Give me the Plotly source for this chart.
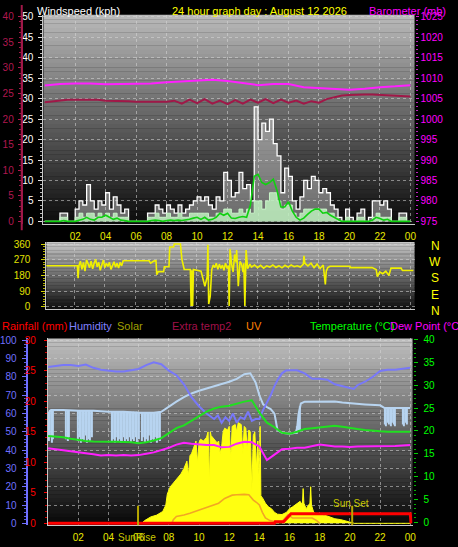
import plotly.graph_objects as go

W, H = 458, 547

def PX(x):
    return x / W

def PY(y):
    return 1 - y / H

# ---------------- data ----------------
x_tick_vals = [2, 4, 6, 8, 10, 12, 14, 16, 18, 20, 22, 24]
x_tick_text = ["02", "04", "06", "08", "10", "12", "14", "16", "18", "20", "22", "00"]

wind_hours = [0,0.25,0.5,0.75,1,1.25,1.5,1.75,2,2.25,2.5,2.75,3,3.25,3.5,3.75,4,4.25,4.5,4.75,
              5,5.25,5.5,5.75,6,6.25,6.5,6.75,7,7.25,7.5,7.75,8,8.25,8.5,8.75,9,9.25,9.5,9.75,
              10,10.25,10.5,10.75,11,11.25,11.5,11.75,12,12.25,12.5,12.75,13,13.25,13.5,13.75,
              14,14.25,14.5,14.75,15,15.25,15.5,15.75,16,16.25,16.5,16.75,17,17.25,17.5,17.75,
              18,18.25,18.5,18.75,19,19.25,19.5,19.75,20,20.25,20.5,20.75,21,21.25,21.5,21.75,
              22,22.25,22.5,22.75,23,23.25,23.5,23.75,24]
wind_gust = [0,0,0,0, 2,2,0,0, 3,5,4,9, 5,3,5,4, 7,3,6,4, 2,3,0,0, 0,0,0,2, 2,4,3,2,
             4,3,2,4, 2,3,4,5, 6,5,6,4, 3,6,5,12, 10,6,7,12, 8,9,5,28, 20,24,22,25,
             19,16,7,13, 11,5,3,6, 10,8,11,10, 7,8,7,4, 3,1,0,3, 1,0,2,3, 0,1,5,5,
             4,5,3,0, 0,2,2,0, 0]
wind_speed = [0,0,0,0, 1,1,0,0, 1,2,1,2, 2,1,2,1, 2,1,2,1, 1,1,0,0, 0,0,0,1, 1,2,1,1,
              2,1,1,2, 1,1,2,2, 2,2,2,1, 1,2,2,3, 3,2,2,3, 2,3,2,5, 5,3,5,7,
              7,5,3,4, 4,2,1,2, 3,3,3,3, 3,3,2,2, 1,0,0,1, 0,0,1,1, 0,0,1,2,
              1,1,1,0, 0,1,1,0, 0]
wind_avg = [0,0,0,0, 0,0.2,0,0, 0,0.3,0.5,1, 0.5,0.3,1,1, 1.5,1,0.5,0.8, 0.3,0.2,0,0,
            0,0,0,0, 0.2,0.3,0.2,0, 0.2,0.3,0.2,0.3, 0.2,0.3,0.5,0.8, 1,0.5,1,0.3,
            0.5,1,2,1.5, 2,0.8,0.7,1, 1.2,1,4,11, 11.5,9.5,9,9.5, 10.3,7.5,3.5,3.5,
            4.8,2.5,1,0.3, 0.8,1.7,2.5,3, 3,2,2.2,1.5, 1,0.3,0,0, 0,0,0,0, 0,0,0.3,1,
            0.7,0.3,0.5,0, 0,0,0,0, 0]

baro_hours = [0,1,2,3,4,5,6,7,8,9,10,11,12,13,14,15,16,17,18,19,20,21,22,23,24]
barometer = [1008.2,1008.6,1008.7,1008.7,1008.5,1008.6,1008.7,1008.7,1009.0,1009.2,1009.3,
             1009.6,1009.3,1008.8,1008.3,1008.6,1008.6,1007.8,1007.6,1007.5,1007.2,1007.4,
             1007.8,1008.0,1008.3]

xt2_hours = [0,0.5,1,1.5,2,2.5,3,3.5,4,4.5,5,5.5,6,6.5,7,7.5,8,8.5,9,9.5,10,10.5,11,11.5,
             12,12.5,13,13.5,14,14.5,15,15.5,16,16.5,17,17.5,18,18.5,19,19.5,20,20.5,21,21.5,
             22,22.5,23,23.5,24]
extra_temp2 = [23.3,23.5,23.7,23.8,23.8,23.8,23.8,23.8,23.6,23.6,23.5,23.5,23.4,23.4,23.3,23.3,
               23.4,23.6,23.0,23.8,23.1,23.9,23.0,23.6,22.9,23.7,23.0,23.8,23.2,23.9,23.1,23.8,
               23.2,23.6,23.0,23.5,23.2,23.9,24.3,24.6,24.7,24.8,24.8,24.8,24.7,24.6,24.5,24.4,24.4]

wd_hours = [0,2.2,2.25,2.3,2.4,2.5,2.6,2.7,2.8,2.9,3.0,3.1,3.2,3.3,3.4,3.5,3.6,3.7,3.8,3.9,
            4.0,4.1,4.2,4.3,4.4,4.5,4.6,4.7,4.8,4.9,5.0,5.1,5.2,6.9,7.0,7.2,7.35,7.4,7.5,7.85,
            7.9,8.2,8.25,8.5,8.55,8.95,9.05,9.2,9.6,9.65,9.7,9.75,9.8,10.3,10.45,10.55,10.7,
            10.75,10.8,10.9,11.0,11.1,11.2,11.3,11.4,11.5,11.6,11.7,11.8,11.9,12.0,12.1,12.14,
            12.2,12.3,12.4,12.5,12.6,12.63,12.7,12.74,12.85,12.95,13.05,13.1,13.17,13.25,13.35,
            13.5,13.6,13.8,14.0,14.2,14.4,14.6,14.8,15.0,15.2,15.4,15.6,15.8,16.0,16.2,16.4,
            16.6,16.8,17.0,17.04,17.1,17.3,17.5,17.7,17.9,18.1,18.3,18.44,18.5,18.6,18.75,
            20.05,20.1,21.5,21.77,21.85,22.0,22.2,22.4,22.6,22.74,23.4,23.49,24.2]
wind_dir = [236,236,165,235,262,215,255,205,270,240,225,262,218,250,272,230,255,210,245,268,
            225,250,232,255,215,240,258,228,250,222,255,235,264,264,250,262,264,185,202,202,
            230,230,343,343,360,360,270,214,214,5,210,5,214,205,150,118,170,
            355,17,60,214,240,225,250,215,245,220,240,210,250,225,235,5,
            332,245,200,300,255,326,230,118,260,245,200,250,5,326,219,
            245,228,240,225,238,222,235,228,240,226,236,224,238,228,240,230,
            235,228,245,292,250,235,250,225,245,220,240,129,205,225,233,
            233,225,225,214,174,200,190,205,180,222,222,208,208]

hum_hours = [0,0.5,1,1.5,2,2.5,3,3.5,4,4.5,5,5.5,6,6.5,7,7.5,8,8.5,9,9.5,10,10.5,11,11.25,
             11.5,11.75,12,12.25,12.5,12.75,13,13.25,13.5,13.75,14,14.25,14.5,14.75,15,15.25,
             15.5,15.75,16,16.5,17,17.25,17.5,18,18.5,19,19.5,20,20.25,20.5,21,21.5,22,22.5,
             23,23.5,24]
humidity = [85.5,86,86.6,86.6,86,86.8,85,84,83.5,83,83,83.5,84.4,86.5,88,87,83.5,81,76,69,64,
            60,57,59,55,58,56,60,55,58,57,61,56,57,57,62,66,70,75,79,82,83.5,83.7,83.7,82,80.6,
            79,79,78.5,76,75,74,73.5,75.5,77.4,80,83.3,84,84,84.5,85]

lb_hours = [0,0.1,0.2,0.3,1,2,3,4,5,6,7,7.5,8,8.5,9,9.5,10,10.5,11,11.5,12,12.5,13,13.4,
            13.75,14,14.25,14.5,14.75,15,15.1,15.2,15.5,16,16.4,16.5,16.6,16.75,17,17.5,18,19,
            19.5,20,20.5,21,22,22.3,23,24]
lb_line = [58,61,62,62,62,61.5,61.5,61,61,60.5,60.5,61,64,66.5,69,71,72.5,73.7,75,76,77.4,79,
           81.5,82,77,70,65,63.5,62.5,60,55,51,49.5,49,49.5,52,60,65.5,66.5,66.6,66.6,66.6,66,
           65.6,65.4,65,64.5,63,63,63]

lb_bar_hours = [0.05,0.15,0.25,0.35, 1.2,1.3,1.4, 2.0,2.1,2.2,2.3,2.4,2.5,2.6,2.7,2.8,2.9,
                4.2,4.3,4.4,4.5,4.6,4.7,4.8,4.9,5.0,5.1,5.2,5.3,5.4,5.5,5.6,5.7,5.8,5.9,6.0,
                6.2,6.3,6.4,6.5,6.6,6.7,6.8,6.9,7.0,7.1,7.2,7.3,7.4, 16.4,16.5,16.6,16.7,
                22.3,22.4,22.5,22.6,22.7,22.8,22.9,23.0, 23.5,23.6,23.7,23.8]
lb_bar_low = [45,47,44,46, 46,45,47, 45,47,44,46,45,48,44,46,45,47,
              45,46,44,47,45,46,44,45,47,44,46,45,47,44,46,45,47,44,46,
              45,47,44,46,45,48,44,46,45,47,44,46,45, 50,49,51,50,
              54,53,55,54,53,55,54,53, 54,53,55,54]
lb_bar_top = [61,62,62,62, 62,62,62, 61.5,61.5,61.5,61.5,61.5,61.5,61.5,61.5,61.5,61.5,
              61,61,61,61,61,61,61,61,61,61,61,61,61,61,61,61,61,61,60.5,
              60.5,60.5,60.5,60.5,60.5,60.5,60.5,60.5,60.5,60.5,60.5,60.5,61, 50,53,60,64,
              63,63,63,63,63,63,63,63, 63,63,63,63]

th_hours = [0,0.5,1,1.5,2,2.5,3,3.5,4,4.5,5,5.5,6,6.5,7,7.5,8,8.5,9,9.5,10,10.5,11,11.5,12,
            12.5,13,13.5,14,14.5,15,15.5,16,16.5,17,17.5,18,18.5,19,19.5,20,20.5,21,21.5,22,
            22.5,23,23.5,24]
temperature = [18.9,18.8,18.6,18.3,18.0,17.8,17.7,17.6,17.6,17.6,17.6,17.5,17.3,17.5,17.9,18.4,
               19.5,20.6,21.2,22.2,23.3,24.2,24.9,25.3,25.5,26.0,26.4,26.7,24.0,21.8,20.8,19.6,
               19.4,19.8,20.4,20.6,20.8,21.0,21.1,20.9,20.6,20.4,20.2,20.0,19.9,19.8,19.8,19.7,19.8]
dew_point = [16.2,16.0,15.8,15.5,15.3,15.1,14.9,14.6,14.7,14.6,14.7,14.6,14.7,15.0,15.3,15.8,
             16.3,17.0,17.4,17.2,17.0,16.9,16.9,16.4,16.5,17.2,17.6,17.5,16.6,13.6,14.8,16.0,
             16.1,16.3,16.3,16.6,17.0,16.8,16.6,16.6,16.5,16.6,16.6,16.7,16.6,16.7,16.7,16.8,16.9]

solar_hours = [0,6.2,6.4,6.8,7.2,7.6,7.8,7.9,8.1,8.4,8.6,8.8,9.0,9.2,9.3,9.35,9.4,9.5,9.7,9.8,
               9.9,10.0,10.1,10.3,10.5,10.6,10.7,10.75,10.8,11.0,11.2,11.3,11.4,11.5,11.6,11.7,
               11.9,12.0,12.1,12.2,12.4,12.5,12.6,12.8,12.9,13.0,13.1,13.2,13.3,13.4,13.5,13.6,
               13.7,13.8,13.9,14.0,14.05,14.1,14.2,14.4,14.6,14.8,15.0,15.2,15.5,15.8,16.0,16.2,
               16.5,16.7,16.85,16.9,16.95,17.1,17.35,17.4,17.45,17.6,17.8,18.0,18.5,19.0,19.4,
               19.8,20.1,20.3,24]
solar = [0,0,1.5,3.5,4.5,6.5,10,16,20,23,25,27,30,34,26,36,37,38,42,45,33,44,46,45,47,50,22,
         50,48,46,44,45,38,42,50,52,51,53,35,53,54,50,55,54,38,53,52,40,51,50,18,48,50,30,45,
         21,53,15,14,11,9,8,6,5,4.8,6,8,9,11,12,10,19,11,8,11,20,10,6,5,5,4,2.5,2,1,0.5,0,0]

uv_hours = [8.2,8.3,8.5,9.0,9.4,10.0,10.3,10.7,11.0,11.3,11.7,12.0,12.2,12.5,12.8,13.0,13.3,
            13.6,13.8,14.0,14.2,14.4,14.7,15.0,15.5,15.9,16.2,16.5,17.0,17.5,17.8,18.0]
uv = [0,2,3.8,4.5,5.5,7.3,7.8,9,10,11,13.6,14.5,15.4,15.6,15.8,15.8,15.6,12.7,11.5,10,6,3,1.5,
      1,1,4.8,2.9,3,2.9,2.9,1.5,0]

rain_hours = [0,15.0,15.05,15.6,16.1,24.0,24.05]
rainfall = [0,0,0.25,0.25,1.56,1.56,0]

sunrise_hour = 5.96
sunset_hour = 20.15

for a, b in [(wind_hours, wind_gust), (wind_hours, wind_speed), (wind_hours, wind_avg),
             (baro_hours, barometer), (xt2_hours, extra_temp2), (wd_hours, wind_dir),
             (hum_hours, humidity), (lb_hours, lb_line), (lb_bar_hours, lb_bar_low),
             (lb_bar_hours, lb_bar_top), (th_hours, temperature), (th_hours, dew_point),
             (solar_hours, solar), (uv_hours, uv), (rain_hours, rainfall)]:
    assert len(a) == len(b), (len(a), len(b))

# ---------------- figure ----------------
FONT = "Liberation Sans"
TICK = 10
fig = go.Figure()
skip = dict(hoverinfo="skip", showlegend=False)

# top panel
fig.add_trace(go.Scatter(x=wind_hours, y=wind_gust, mode="lines", line=dict(color="#ffffff", width=1.3, shape="hv"),
                         fill="tozeroy", fillcolor="rgba(235,235,235,0.42)", xaxis="x", yaxis="y", **skip))
fig.add_trace(go.Scatter(x=wind_hours, y=wind_speed, mode="lines", line=dict(color="#c8f4c8", width=1, shape="hv"),
                         fill="tozeroy", fillcolor="rgba(190,240,190,0.85)", xaxis="x", yaxis="y", **skip))
fig.add_trace(go.Scatter(x=wind_hours, y=wind_avg, mode="lines", line=dict(color="#10d010", width=1.6),
                         xaxis="x", yaxis="y", **skip))
fig.add_trace(go.Scatter(x=xt2_hours, y=extra_temp2, mode="lines", line=dict(color="#a01848", width=2),
                         xaxis="x", yaxis="y2", **skip))
fig.add_trace(go.Scatter(x=baro_hours, y=barometer, mode="lines", line=dict(color="#ff20ff", width=2),
                         xaxis="x", yaxis="y3", **skip))

# middle panel
fig.add_trace(go.Scatter(x=wd_hours, y=wind_dir, mode="lines", line=dict(color="#f0f000", width=1.6),
                         xaxis="x2", yaxis="y4", **skip))

# bottom panel
fig.add_trace(go.Scatter(x=solar_hours, y=solar, mode="lines", line=dict(color="#ffff10", width=1),
                         fill="tozeroy", fillcolor="#ffff10", xaxis="x3", yaxis="y5", **skip))
fig.add_trace(go.Bar(x=lb_bar_hours, base=lb_bar_low, y=[t - l for t, l in zip(lb_bar_top, lb_bar_low)],
                     width=0.07, marker=dict(color="#b8d4f0", line=dict(width=0)),
                     xaxis="x3", yaxis="y5", **skip))
fig.add_trace(go.Scatter(x=lb_hours, y=lb_line, mode="lines", line=dict(color="#b8d4f0", width=2),
                         xaxis="x3", yaxis="y5", **skip))
fig.add_trace(go.Scatter(x=hum_hours, y=humidity, mode="lines", line=dict(color="#7878f8", width=2),
                         xaxis="x3", yaxis="y5", **skip))
fig.add_trace(go.Scatter(x=uv_hours, y=uv, mode="lines", line=dict(color="rgba(240,150,40,0.85)", width=1.6),
                         xaxis="x3", yaxis="y5", **skip))
fig.add_trace(go.Scatter(x=rain_hours, y=rainfall, mode="lines", line=dict(color="#ff0000", width=3),
                         xaxis="x3", yaxis="y6", **skip))
fig.add_trace(go.Scatter(x=th_hours, y=temperature, mode="lines", line=dict(color="#20e020", width=2),
                         xaxis="x3", yaxis="y7", **skip))
fig.add_trace(go.Scatter(x=th_hours, y=dew_point, mode="lines", line=dict(color="#ff20ff", width=2),
                         xaxis="x3", yaxis="y7", **skip))

# ---------- gradient backgrounds ----------
shapes = []
def gradient(x0, x1, y0, y1, c_top, c_bot, n=48):
    for i in range(n):
        t = (i + 0.5) / n
        c = int(round(c_top + (c_bot - c_top) * t))
        ya = y0 + (y1 - y0) * i / n
        yb = y0 + (y1 - y0) * (i + 1) / n + 0.3
        shapes.append(dict(type="rect", xref="paper", yref="paper", x0=PX(x0), x1=PX(x1),
                           y0=PY(yb), y1=PY(ya), fillcolor=f"rgb({c},{c},{c})",
                           line=dict(width=0), layer="below"))

TOP = (42, 418, 10, 223)
MID = (45, 418, 241, 309)
BOT = (46.5, 416, 339, 529)
gradient(*TOP, 186, 10)
gradient(*MID, 200, 14)
gradient(*BOT, 192, 6)

# crimson axis line extension
shapes.append(dict(type="line", xref="paper", yref="paper", x0=PX(20), x1=PX(20), y0=PY(229), y1=PY(0),
                   line=dict(color="#a01848", width=2), layer="above"))
# sunrise / sunset markers
for hr in (sunrise_hour, sunset_hour):
    shapes.append(dict(type="line", xref="x3", yref="paper", x0=hr, x1=hr, y0=PY(529), y1=PY(509),
                       line=dict(color="#b8a800", width=2), layer="above"))

grid = dict(showgrid=True, gridcolor="rgba(215,215,215,0.55)", griddash="dot", gridwidth=1)

def xax(domain, rng, anchor, labels):
    return dict(domain=domain, range=rng, anchor=anchor, tickvals=x_tick_vals, ticktext=x_tick_text,
                showticklabels=labels, tickfont=dict(color="#e8e800", size=TICK, family=FONT),
                ticks="outside", ticklen=3, tickcolor="#000000", showline=True, linecolor="#c8c8c8",
                linewidth=1, zeroline=False, fixedrange=True, **grid)

layout = dict(
    width=W, height=H, autosize=False, margin=dict(l=0, r=0, t=0, b=0, pad=0),
    paper_bgcolor="#000000", plot_bgcolor="rgba(0,0,0,0)", showlegend=False,
    font=dict(family=FONT, size=11), barmode="overlay",
    xaxis=xax([PX(42), PX(418)], [-0.084, 24.27], "y", True),
    xaxis2=xax([PX(45), PX(418)], [0.174, 24.28], "y4", False),
    xaxis3=xax([PX(46.5), PX(416)], [-0.013, 24.15], "y5", True),
    yaxis=dict(domain=[PY(223), PY(10)], range=[-0.72, 50.48], anchor="x", dtick=5, tick0=0,
               tickfont=dict(color="#ffffff", size=TICK, family=FONT), ticks="outside", ticklen=4,
               tickcolor="#e0e0e0", minor=dict(dtick=1, ticks="outside", ticklen=2, tickcolor="#c0c0c0"),
               showline=True, linecolor="#c8c8c8", zeroline=False, fixedrange=True,
               ticklabelstandoff=3, **grid),
    yaxis2=dict(overlaying="y", anchor="free", position=PX(20), side="left", range=[-0.58, 40.38],
                dtick=5, tick0=0, tickfont=dict(color="#b01850", size=TICK, family=FONT), ticks="outside",
                ticklen=3, tickcolor="#b01850", minor=dict(dtick=1, ticks="outside", ticklen=2, tickcolor="#a01848"),
                showline=True, linecolor="#a01848", linewidth=2, showgrid=False, zeroline=False,
                fixedrange=True, ticklabelstandoff=2),
    yaxis3=dict(overlaying="y", anchor="x", side="right", range=[974.28, 1025.48], dtick=5, tick0=975,
                tickfont=dict(color="#ff00ff", size=TICK, family=FONT), ticks="outside", ticklen=3,
                tickcolor="#d020d0", minor=dict(dtick=1, ticks="outside", ticklen=2, tickcolor="#c020c0"),
                showline=False, showgrid=False, zeroline=False, fixedrange=True, ticklabelstandoff=0),
    yaxis4=dict(domain=[PY(309), PY(241)], range=[-11.25, 371.25], anchor="x2", tickvals=[0, 90, 180, 270, 360],
                tickfont=dict(color="#e0e000", size=TICK, family=FONT), ticks="outside", ticklen=4,
                tickcolor="#d0d000", minor=dict(dtick=15, ticks="outside", ticklen=2, tickcolor="#b0b000"),
                showline=True, linecolor="#c8c8c8", zeroline=False, fixedrange=True,
                ticklabelstandoff=9, **grid),
    yaxis5=dict(domain=[PY(529), PY(339)], range=[-1.08, 101.08], anchor="free", position=PX(25), side="left",
                dtick=10, tick0=0, tickfont=dict(color="#7070ff", size=TICK, family=FONT), ticks="outside",
                ticklen=4, tickcolor="#7070ff", minor=dict(dtick=2, ticks="outside", ticklen=2, tickcolor="#6060e0"),
                showline=True, linecolor="#7070ff", linewidth=2, zeroline=False, fixedrange=True,
                ticklabelstandoff=3, **grid),
    yaxis6=dict(overlaying="y5", anchor="x3", side="left", range=[-0.32, 30.32], dtick=5, tick0=0,
                tickfont=dict(color="#ff0000", size=TICK, family=FONT), ticks="outside", ticklen=3,
                tickcolor="#ff0000", minor=dict(dtick=1, ticks="outside", ticklen=2, tickcolor="#d00000"),
                showline=True, linecolor="#c8c8c8", showgrid=False, zeroline=False, fixedrange=True,
                ticklabelstandoff=6),
    yaxis7=dict(overlaying="y5", anchor="x3", side="right", range=[-0.645, 40.215], dtick=5, tick0=0,
                tickfont=dict(color="#00ff00", size=TICK, family=FONT), ticks="outside", ticklen=4,
                tickcolor="#00d000", minor=dict(dtick=1, ticks="outside", ticklen=2, tickcolor="#00b000"),
                showline=False, showgrid=False, zeroline=False, fixedrange=True, ticklabelstandoff=4),
    shapes=shapes,
)
fig.update_layout(**layout)

def note(text, x, y, color, anchor="left", size=11):
    fig.add_annotation(text=text, x=PX(x), y=PY(y), xref="paper", yref="paper", showarrow=False,
                       xanchor=anchor, yanchor="middle", borderpad=0,
                       font=dict(color=color, size=size, family=FONT))

note("Windspeed (kph)", 34, 6, "#ffffff")
note("24 hour graph day : August 12 2026", 171, 6, "#ffff00")
note("Barometer (mb)", 371, 6, "#ff00ff")
note("Rainfall (mm)", -1, 326, "#ff0000")
note("Humidity", 67, 326, "#8080ff")
note("Solar", 116, 326, "#a0a000")
note("Extra temp2", 171, 326, "#a0104a")
note("UV", 246, 326, "#ff8000")
note("Temperature (°C)", 311, 326, "#00ff00")
note("Dew Point (°C)", 392, 326, "#ff00ff")
for letter, yy in zip(["N", "W", "S", "E", "N"], [245, 261, 278, 295, 311]):
    note(letter, 439, yy, "#ffff00", anchor="center", size=12)
note("SunRise", 137, 541, "#c8c800", anchor="center", size=10)
note("Sun Set", 354, 507, "#c8c800", anchor="center", size=10)

fig.write_html("out.html", config={"displayModeBar": False},
               post_script="document.body.style.margin='0';document.body.style.overflow='hidden';")
